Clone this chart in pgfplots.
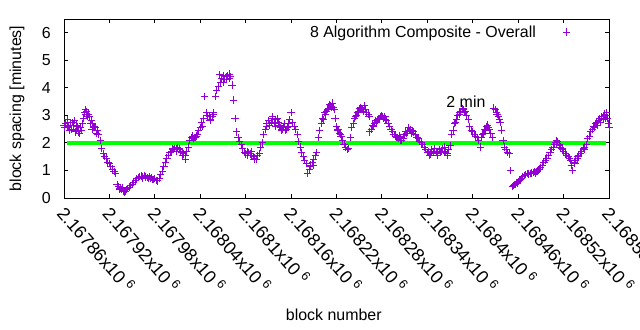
\documentclass[border=0pt]{standalone}
\usepackage{pgfplots}
\pgfplotsset{compat=1.18}
\usepackage{fontspec}
\setmainfont{Liberation Sans}
\definecolor{dviolet}{RGB}{148,0,211}
\definecolor{lgreen}{RGB}{0,255,0}
\newcommand{\gf}{\fontsize{16}{19}\selectfont}
\newcommand{\gfx}{\fontsize{18}{21}\selectfont}
\newcommand{\xl}[1]{{\gfx 2.#1x10\hspace{4.5bp}\textsuperscript{6}}}
\begin{document}
\begin{tikzpicture}
\useasboundingbox (-64bp,-132bp) rectangle (576bp,198bp);
\begin{axis}[
  scale only axis,
  width=545bp, height=179bp,
  xmin=2167860, xmax=2168580,
  ymin=0, ymax=6.5,
  ytick={0,1,2,3,4,5,6},
  xtick={2167860,2167920,2167980,2168040,2168100,2168160,2168220,2168280,2168340,2168400,2168460,2168520,2168580},
  xticklabels={\xl{16786},\xl{16792},\xl{16798},\xl{16804},\xl{1681},\xl{16816},\xl{16822},\xl{16828},\xl{16834},\xl{1684},\xl{16846},\xl{16852},\xl{16858}},
  scaled x ticks=false,
  tick pos=both,
  tick align=inside,
  major tick length=4bp,
  minor tick num=0,
  axis line style={line width=0.9bp, black},
  every tick/.style={black, line width=0.9bp},
  /pgf/number format/assume math mode=true,
  y tick label style={font=\gf, anchor=east, inner sep=0pt, xshift=-13bp},
  x tick label style={font=\gfx, xshift=-8bp, yshift=-16bp, rotate=-49, anchor=base west, inner sep=0pt},
  xlabel={block number},
  ylabel={block spacing [minutes]},
  label style={font=\gf},
  xlabel style={at={(axis description cs:0.495,-0.654)}, anchor=center},
  ylabel style={at={(axis description cs:-0.0862,0.5)}, anchor=center},
  legend plot pos=right,
  legend cell align=right,
  legend style={draw=none, fill=none, font=\gf, inner sep=0pt,
    at={(0.929,0.927)}, anchor=east,
    nodes={inner sep=0pt}, column sep=27bp},
]
\addplot[only marks, mark=+, mark size=3.6bp, line width=0.9bp, color=dviolet] table {
2167860 2.65
2167861 2.55
2167862 2.70
2167864 2.55
2167865 2.85
2167866 2.60
2167867 2.45
2167868 2.75
2167870 2.50
2167871 2.75
2167872 2.65
2167874 2.80
2167875 2.40
2167876 2.45
2167877 2.65
2167878 2.60
2167879 2.40
2167880 2.35
2167882 2.55
2167883 2.45
2167884 2.70
2167886 2.90
2167887 3.10
2167888 3.20
2167889 3.05
2167890 3.15
2167891 2.95
2167892 3.05
2167894 2.95
2167895 2.70
2167896 2.80
2167897 2.50
2167898 2.70
2167899 2.55
2167900 2.60
2167902 2.55
2167903 2.35
2167904 2.45
2167905 2.30
2167906 2.30
2167908 2.10
2167910 1.80
2167912 1.60
2167914 1.50
2167916 1.45
2167918 1.30
2167920 1.25
2167922 1.15
2167924 1.05
2167926 0.95
2167928 0.90
2167930 0.50
2167932 0.42
2167933 0.30
2167934 0.36
2167936 0.30
2167937 0.38
2167938 0.25
2167940 0.22
2167941 0.25
2167942 0.30
2167944 0.35
2167946 0.40
2167948 0.45
2167950 0.50
2167952 0.55
2167954 0.62
2167956 0.70
2167958 0.75
2167960 0.78
2167962 0.80
2167963 0.72
2167964 0.78
2167966 0.82
2167967 0.75
2167968 0.76
2167970 0.74
2167972 0.72
2167973 0.78
2167974 0.70
2167976 0.75
2167977 0.66
2167978 0.68
2167980 0.70
2167982 0.65
2167984 0.62
2167986 0.72
2167988 0.85
2167990 0.98
2167992 1.15
2167994 1.30
2167996 1.45
2167998 1.55
2168000 1.65
2168002 1.70
2168003 1.80
2168004 1.75
2168006 1.80
2168008 1.78
2168009 1.70
2168010 1.82
2168012 1.75
2168013 1.80
2168014 1.70
2168016 1.65
2168017 1.55
2168018 1.60
2168020 1.55
2168021 1.40
2168022 1.70
2168024 1.85
2168026 2.10
2168028 2.20
2168030 2.25
2168031 2.15
2168032 2.20
2168034 2.20
2168035 2.25
2168036 2.30
2168038 2.45
2168040 2.55
2168042 2.75
2168043 2.60
2168044 2.90
2168046 3.70
2168048 3.10
2168049 3.00
2168050 3.00
2168052 2.95
2168053 2.80
2168054 2.85
2168056 2.95
2168057 3.10
2168058 3.05
2168060 3.70
2168062 3.90
2168064 4.05
2168066 4.47
2168067 4.20
2168068 4.35
2168070 4.20
2168071 4.45
2168072 4.30
2168074 4.40
2168075 4.30
2168076 4.45
2168078 4.50
2168079 4.35
2168080 4.40
2168082 4.10
2168084 3.56
2168086 2.90
2168088 2.40
2168090 2.20
2168092 2.05
2168094 1.93
2168096 1.80
2168098 1.65
2168100 1.60
2168102 1.70
2168103 1.55
2168104 1.65
2168106 1.60
2168107 1.70
2168108 1.55
2168110 1.50
2168111 1.40
2168112 1.45
2168114 1.40
2168116 1.55
2168118 1.63
2168120 1.85
2168122 2.00
2168124 2.30
2168126 2.50
2168127 2.60
2168128 2.70
2168130 2.80
2168131 2.70
2168132 2.65
2168134 2.75
2168135 2.95
2168136 2.90
2168138 2.70
2168139 2.60
2168140 2.85
2168142 2.90
2168143 2.75
2168144 2.65
2168146 2.55
2168147 2.45
2168148 2.50
2168150 2.60
2168151 2.70
2168152 2.45
2168154 2.50
2168155 2.55
2168156 2.70
2168157 2.60
2168158 2.85
2168160 3.10
2168162 2.75
2168164 2.60
2168166 2.50
2168168 2.30
2168170 2.05
2168172 1.85
2168174 1.65
2168176 1.50
2168178 1.35
2168180 1.25
2168182 0.90
2168184 1.05
2168185 1.20
2168186 1.15
2168188 1.30
2168189 1.20
2168190 1.40
2168192 1.55
2168194 1.65
2168196 2.20
2168198 2.45
2168200 2.70
2168202 2.90
2168203 2.85
2168204 3.10
2168206 3.05
2168207 3.15
2168208 3.20
2168210 3.25
2168211 3.40
2168212 3.35
2168213 3.30
2168214 3.45
2168216 3.30
2168217 3.20
2168218 2.90
2168220 2.60
2168221 2.45
2168222 2.50
2168224 2.35
2168225 2.30
2168226 2.25
2168228 2.10
2168230 1.95
2168232 1.85
2168234 1.75
2168236 1.80
2168238 2.20
2168240 2.55
2168242 2.70
2168244 2.90
2168245 2.95
2168246 3.00
2168248 3.10
2168249 3.15
2168250 3.25
2168252 3.30
2168253 3.20
2168254 3.20
2168256 3.15
2168257 3.35
2168258 3.20
2168260 3.10
2168262 3.05
2168263 2.95
2168264 2.40
2168266 2.50
2168268 2.65
2168269 2.60
2168270 2.70
2168272 2.80
2168273 2.75
2168274 2.85
2168276 2.90
2168277 2.85
2168278 2.95
2168280 3.00
2168281 2.95
2168282 2.90
2168284 2.95
2168285 2.85
2168286 2.80
2168288 2.70
2168290 2.60
2168292 2.50
2168294 2.40
2168296 2.30
2168298 2.25
2168299 2.20
2168300 2.20
2168302 2.15
2168303 2.25
2168304 2.20
2168305 2.10
2168306 2.10
2168308 2.18
2168310 2.30
2168311 2.40
2168312 2.35
2168314 2.40
2168315 2.55
2168316 2.45
2168318 2.50
2168319 2.35
2168320 2.45
2168322 2.40
2168324 2.30
2168326 2.20
2168327 2.20
2168328 2.15
2168330 2.05
2168332 2.00
2168334 1.95
2168336 1.85
2168338 1.75
2168340 1.65
2168342 1.70
2168343 1.55
2168344 1.60
2168345 1.70
2168346 1.75
2168348 1.65
2168349 1.80
2168350 1.80
2168352 1.70
2168353 1.55
2168354 1.60
2168356 1.75
2168357 1.65
2168358 1.70
2168360 1.80
2168362 1.65
2168363 1.85
2168364 1.70
2168366 1.60
2168367 1.55
2168368 1.75
2168370 1.90
2168372 2.30
2168374 2.47
2168376 2.70
2168377 2.75
2168378 2.84
2168380 3.00
2168382 3.10
2168383 3.05
2168384 3.15
2168386 3.20
2168387 3.25
2168388 3.20
2168389 3.10
2168390 3.15
2168392 3.00
2168394 2.84
2168396 2.60
2168398 2.45
2168400 2.40
2168402 2.30
2168404 2.25
2168406 2.20
2168408 2.10
2168410 1.85
2168412 2.20
2168413 2.30
2168414 2.35
2168416 2.50
2168417 2.45
2168418 2.60
2168419 2.55
2168420 2.65
2168421 2.55
2168422 2.50
2168424 2.36
2168426 2.20
2168428 3.27
2168430 3.20
2168431 3.10
2168432 3.05
2168434 2.95
2168435 2.85
2168436 2.75
2168438 2.47
2168440 2.10
2168442 1.85
2168444 1.75
2168446 1.65
2168448 1.60
2168450 1.00
2168452 0.42
2168454 0.45
2168455 0.48
2168456 0.50
2168458 0.55
2168459 0.52
2168460 0.60
2168462 0.65
2168463 0.68
2168464 0.70
2168466 0.78
2168468 0.82
2168470 0.85
2168472 0.88
2168473 0.85
2168474 0.90
2168476 0.90
2168477 0.92
2168478 0.88
2168480 0.92
2168482 0.95
2168483 0.90
2168484 0.95
2168486 0.98
2168487 1.02
2168488 1.05
2168490 1.12
2168492 1.20
2168494 1.30
2168496 1.38
2168498 1.45
2168500 1.55
2168502 1.67
2168504 1.75
2168506 1.85
2168508 1.93
2168510 2.00
2168511 2.10
2168512 2.04
2168514 1.95
2168515 1.90
2168516 1.85
2168518 1.80
2168519 1.75
2168520 1.70
2168522 1.63
2168523 1.60
2168524 1.55
2168526 1.50
2168528 1.45
2168529 1.35
2168530 1.20
2168532 1.00
2168534 1.30
2168535 1.25
2168536 1.38
2168538 1.45
2168539 1.50
2168540 1.55
2168542 1.63
2168544 1.70
2168546 1.80
2168547 1.75
2168548 1.85
2168550 1.95
2168552 2.15
2168554 2.25
2168556 2.40
2168558 2.50
2168560 2.60
2168561 2.55
2168562 2.70
2168564 2.76
2168565 2.65
2168566 2.80
2168568 2.90
2168569 2.75
2168570 2.95
2168572 2.85
2168573 2.95
2168574 3.05
2168575 2.90
2168576 3.00
2168577 3.10
2168578 2.90
2168579 2.70
2168580 2.55
};
\addlegendentry{8 Algorithm Composite - Overall}
\addplot[lgreen, line width=4.5bp, forget plot] coordinates {(2167864,2) (2168576,2)};
\node[font=\gf, anchor=center] at (axis cs:2168391,3.49) {2 min};
\end{axis}
\end{tikzpicture}
\end{document}
